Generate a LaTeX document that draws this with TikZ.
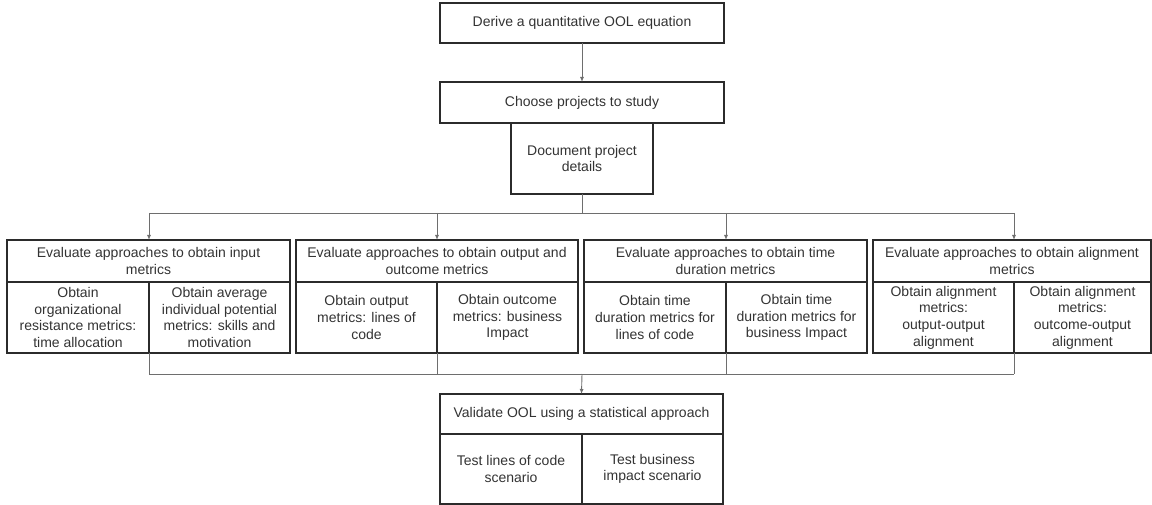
\documentclass[tikz,border=0pt]{standalone}
\usepackage{fontspec}
\setmainfont{Liberation Sans}
\usetikzlibrary{arrows.meta}
\definecolor{boxline}{HTML}{2B2B2B}
\definecolor{wireline}{HTML}{6E6E6E}
\definecolor{txtcol}{HTML}{333333}
\tikzset{
  stagebox/.style={draw=boxline, line width=1.1pt, text=txtcol, align=center,
    inner sep=0pt, outer sep=0pt, font=\fontsize{14}{16.7}\selectfont},
  headbox/.style={stagebox, minimum height=42pt},
  subbox/.style={stagebox, minimum height=71pt},
  wire/.style={draw=wireline, line width=0.9pt},
  wirearrow/.style={wire, -{Latex[length=5pt,width=4pt]}},
}
\begin{document}
\begin{tikzpicture}[x=1pt,y=-1pt]
  \useasboundingbox (0,0) rectangle (1152,505);
  % chain at the top
  \node[stagebox, minimum width=284pt, minimum height=40pt] (derive) at (582,23) {Derive a quantitative OOL equation};
  \node[stagebox, minimum width=284pt, minimum height=41pt] (choose) at (582,102.5) {Choose projects to study};
  \node[subbox, minimum width=142pt] (docs) at (582,158.5) {Document project\\details};
  \draw[wirearrow] (derive) -- (choose);

  % input metrics
  \node[headbox, minimum width=283pt] (inp) at (148.5,261) {Evaluate approaches to obtain input\\metrics};
  \node[subbox, minimum width=142pt] (inpa) at (78,317.5) {Obtain\\organizational\\resistance metrics:\\time allocation};
  \node[subbox, minimum width=141pt] (inpb) at (219.5,317.5) {Obtain average\\individual potential\\metrics: skills and\\motivation};
  % output and outcome metrics
  \node[headbox, minimum width=282pt] (out) at (437,261) {Evaluate approaches to obtain output and\\outcome metrics};
  \node[subbox, minimum width=141pt] (outa) at (366.5,317.5) {Obtain output\\metrics: lines of\\code};
  \node[subbox, minimum width=141pt] (outb) at (507.5,317.5) {Obtain outcome\\metrics: business\\Impact};
  % time duration metrics
  \node[headbox, minimum width=283pt] (dur) at (725.5,261) {Evaluate approaches to obtain time\\duration metrics};
  \node[subbox, minimum width=142pt] (dura) at (655,317.5) {Obtain time\\duration metrics for\\lines of code};
  \node[subbox, minimum width=141pt] (durb) at (796.5,317.5) {Obtain time\\duration metrics for\\business Impact};
  % alignment metrics
  \node[headbox, minimum width=278pt] (ali) at (1012,261) {Evaluate approaches to obtain alignment\\metrics};
  \node[subbox, minimum width=141pt] (alia) at (943.5,317.5) {Obtain alignment\\metrics:\\output-output\\alignment};
  \node[subbox, minimum width=137pt] (alib) at (1082.5,317.5) {Obtain alignment\\metrics:\\outcome-output\\alignment};

  % validation
  \node[stagebox, minimum width=283pt, minimum height=40pt] (validate) at (581.5,414) {Validate OOL using a statistical approach};
  \node[stagebox, minimum width=142pt, minimum height=70pt] (testloc) at (511,469) {Test lines of code\\scenario};
  \node[stagebox, minimum width=141pt, minimum height=70pt] (testbiz) at (652.5,469) {Test business\\impact scenario};
  \draw[boxline, line width=1.8pt] (testloc.north east) -- (testloc.south east);

  % fan out
  \coordinate (spine) at (582,213);
  \draw[wire] (docs.south) -- (spine);
  \draw[wire] (inpa.north east |- spine) -- (alia.north east |- spine);
  \foreach \g in {inp,out,dur,ali}
    \draw[wirearrow] (\g a.north east |- spine) -- (\g a.north east |- \g.north);

  % fan in
  \coordinate (join) at (582,374);
  \foreach \g in {inp,out,dur,ali}
    \draw[wire] (\g a.south east) -- (\g a.south east |- join);
  \draw[wire] (inpa.south east |- join) -- (alia.south east |- join);
  \draw[wirearrow] (join) -- (validate.north);
\end{tikzpicture}
\end{document}
